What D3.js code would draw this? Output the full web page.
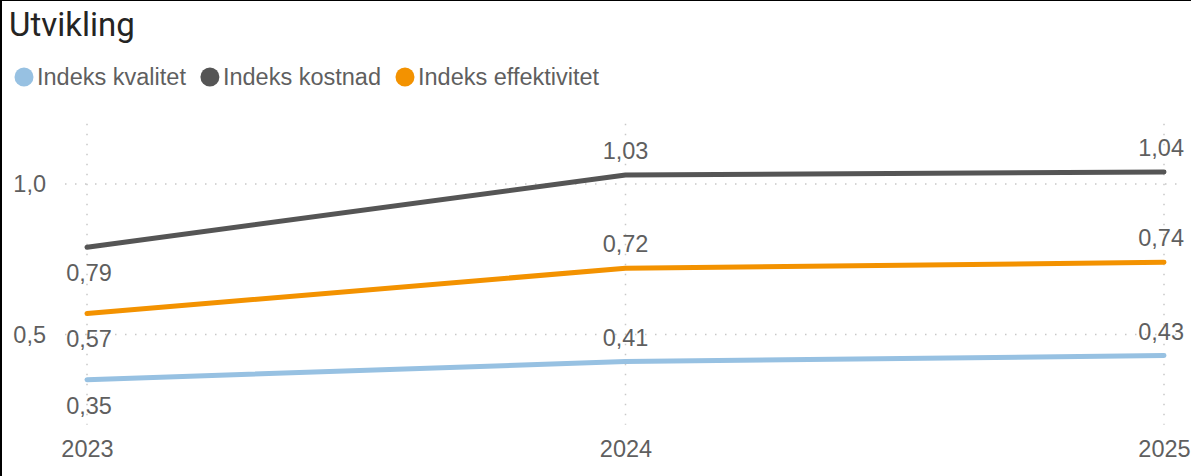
<!DOCTYPE html>
<html>
<head>
<meta charset="utf-8">
<script src="https://cdn.jsdelivr.net/npm/d3@7"></script>
<style>
  body { margin: 0; background: #fff; }
  svg { display: block; }
</style>
</head>
<body>
<div id="chart"></div>
<script>
const years = ["2023", "2024", "2025"];
const seriesNames = ["Indeks kvalitet", "Indeks kostnad", "Indeks effektivitet"];
const seriesColors = ["#97c1e2", "#555555", "#f39200"];
const kvalitet = [0.35, 0.41, 0.43];
const kostnad = [0.79, 1.03, 1.04];
const effektivitet = [0.57, 0.72, 0.74];
const yTicks = [0.5, 1.0];

const series = [kvalitet, kostnad, effektivitet].map((vals, i) => ({
  name: seriesNames[i],
  color: seriesColors[i],
  values: vals
}));

const width = 1191, height = 476;
const fontFam = "'Liberation Sans', Arial, sans-serif";
const textCol = "#5f5f5f";
const fmt = v => d3.format(".2f")(v).replace(".", ",");
const fmtTick = v => d3.format(".1f")(v).replace(".", ",");

const svg = d3.select("#chart").append("svg")
  .attr("width", width)
  .attr("height", height);

// frame edges
svg.append("line").attr("x1", 0).attr("x2", width).attr("y1", 0.5).attr("y2", 0.5)
  .attr("stroke", "#000").attr("stroke-width", 1);
svg.append("line").attr("x1", 1).attr("x2", 1).attr("y1", 0).attr("y2", height)
  .attr("stroke", "#000").attr("stroke-width", 2);

svg.append("text")
  .attr("x", 9)
  .attr("y", 36)
  .attr("font-family", "Roboto, 'DejaVu Sans', sans-serif")
  .attr("font-size", "33px")
  .attr("fill", "#252423")
  .text("Utvikling");

// legend
const legend = svg.append("g").attr("font-family", fontFam)
  .attr("font-size", "23.5px");
let lx = 15;
series.forEach(s => {
  legend.append("circle")
    .attr("cx", lx + 9)
    .attr("cy", 77)
    .attr("r", 9.5)
    .attr("fill", s.color);
  const t = legend.append("text")
    .attr("x", lx + 22)
    .attr("y", 85)
    .attr("fill", textCol)
    .text(s.name);
  lx += 22 + t.node().getComputedTextLength() + 15;
});

const x = d3.scalePoint()
  .domain(years)
  .range([87, 1164]);

const y = d3.scaleLinear()
  .domain([0.2, 1.2])
  .range([424.8, 123.8]);

const grid = svg.append("g")
  .attr("stroke", "#c8c8c8")
  .attr("stroke-width", 1.5)
  .attr("stroke-dasharray", "1.5,8.5");

grid.selectAll(".vgrid")
  .data(years)
  .enter()
  .append("line")
  .attr("x1", d => x(d))
  .attr("x2", d => x(d))
  .attr("y1", y(1.2))
  .attr("y2", y(0.2));

grid.selectAll(".hgrid")
  .data(yTicks)
  .enter()
  .append("line")
  .attr("x1", 65)
  .attr("x2", 1178)
  .attr("y1", d => y(d))
  .attr("y2", d => y(d));

const yAxis = svg.append("g")
  .attr("transform", "translate(46,0)")
  .call(d3.axisLeft(y).tickValues(yTicks).tickFormat(fmtTick).tickSize(0).tickPadding(0));
yAxis.select(".domain").remove();
yAxis.selectAll("text")
  .attr("font-family", fontFam)
  .attr("font-size", "23.5px")
  .attr("fill", textCol);

const xAxis = svg.append("g")
  .attr("transform", "translate(0,440)")
  .call(d3.axisBottom(x).tickSize(0).tickPadding(0));
xAxis.select(".domain").remove();
xAxis.selectAll("text")
  .attr("font-family", fontFam)
  .attr("font-size", "23.5px")
  .attr("fill", textCol);

const line = d3.line()
  .x((d, i) => x(years[i]))
  .y(d => y(d));

svg.append("g")
  .selectAll("path")
  .data(series)
  .enter()
  .append("path")
  .attr("d", d => line(d.values))
  .attr("fill", "none")
  .attr("stroke", d => d.color)
  .attr("stroke-width", 5)
  .attr("stroke-linecap", "round")
  .attr("stroke-linejoin", "round");

// data labels
const labels = svg.append("g")
  .attr("font-family", fontFam)
  .attr("font-size", "23.5px")
  .attr("fill", textCol);

series.forEach(s => {
  s.values.forEach((v, i) => {
    const t = labels.append("text")
      .attr("y", y(v) + (i === 0 ? 34 : -16))
      .text(fmt(v));
    const w = t.node().getComputedTextLength();
    let cx = x(years[i]);
    if (i === 0) cx += 2;
    const left = Math.min(cx - w / 2, 1184 - w);
    t.attr("x", left);
  });
});
</script>
</body>
</html>
